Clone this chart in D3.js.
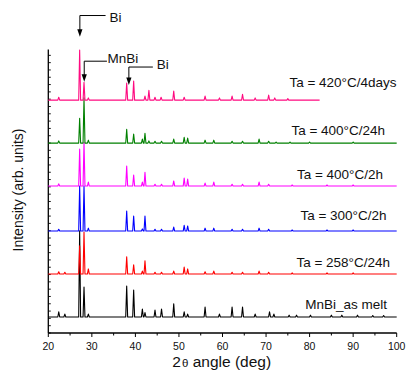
<!DOCTYPE html>
<html><head><meta charset="utf-8">
<script src="https://cdn.jsdelivr.net/npm/d3@7"></script>
<style>body{margin:0;background:#fff;}svg{display:block;font-family:"Liberation Sans",Arial,sans-serif;}</style>
</head><body>
<script>
// ---- data ----
const seriesNames = ["MnBi_as melt","Ta = 258°C/24h","Ta = 300°C/2h","Ta = 400°C/2h","Ta = 400°C/24h","Ta = 420°C/4days"];
const seriesColors = ["#000000","#ff0000","#0000ff","#ff00ff","#008000","#ff0a80"];
const seriesOffsets = [219, 807, 1395, 2011, 2599, 3187];
const seriesRangeEnd = [100, 100, 100, 100, 100, 82.3];
// peaks: [2theta, height]
const peaksAsMelt = [[22.4,70],[23.8,40],[27.2,1180],[28.2,410],[29.2,40],[38.0,425],[39.6,370],[41.6,110],[42.2,60],[44.5,95],[46.0,110],[48.8,180],[51.2,70],[52.0,40],[56.0,135],[59.3,40],[62.2,135],[64.6,135],[67.5,40],[70.8,70],[71.8,40],[75.3,25],[77.0,25],[80.2,25],[85.0,25],[87.4,25],[91.0,25],[94.5,20],[97.0,20]];
const peaks258 = [[22.4,30],[23.8,25],[27.2,385],[28.2,575],[29.2,70],[38.0,235],[39.6,125],[41.6,40],[42.2,180],[44.5,25],[46.0,25],[48.8,40],[51.2,95],[52.0,70],[56.0,30],[58.0,40],[62.2,25],[64.6,25],[68.4,40],[70.6,25],[76.0,15],[84.0,15],[90.0,15]];
const peaks300 = [[22.4,25],[27.2,615],[28.2,615],[29.2,40],[38.0,275],[39.6,205],[41.6,30],[42.2,205],[44.5,25],[46.0,25],[48.8,55],[51.2,80],[52.0,70],[56.0,40],[58.0,40],[62.2,25],[64.6,25],[68.4,40],[70.6,25],[76.0,15],[84.0,15],[90.0,15]];
const peaks400b = [[22.4,30],[27.2,505],[28.2,600],[29.2,55],[38.0,275],[39.6,150],[41.6,55],[42.2,190],[44.5,25],[46.0,25],[48.8,70],[51.2,110],[52.0,95],[56.0,40],[58.0,55],[62.2,25],[64.6,25],[68.4,55],[70.6,25],[76.0,15],[84.0,15],[90.0,15]];
const peaks400a = [[22.4,30],[27.2,340],[28.2,620],[29.2,40],[38.0,190],[39.6,125],[41.6,55],[42.2,135],[43.1,30],[44.5,25],[46.0,25],[48.8,55],[51.2,80],[52.0,70],[56.0,40],[58.0,40],[62.2,25],[64.6,25],[68.4,55],[70.6,25],[72.3,15],[75.5,15],[80.0,15],[90.0,15]];
const peaks420 = [[22.4,40],[27.2,685],[28.2,245],[29.2,30],[38.0,235],[39.6,260],[42.2,55],[43.1,135],[44.5,40],[45.9,40],[48.8,125],[51.2,40],[56.0,55],[59.3,30],[62.2,55],[64.6,80],[67.5,30],[70.6,70],[72.0,30],[75.0,20]];
const allPeaks = [peaksAsMelt, peaks258, peaks300, peaks400b, peaks400a, peaks420];
const xTicks = [20,30,40,50,60,70,80,90,100];
const annotations = [
  {text:"Bi",   x:27.25, tip:4055, elbow:4345},
  {text:"MnBi", x:28.25, tip:3440, elbow:3720},
  {text:"Bi",   x:38.5,  tip:3395, elbow:3640}
];

// ---- layout ----
const W = 407, H = 378;
const svg = d3.select("body").append("svg").attr("width", W).attr("height", H);
const x = d3.scaleLinear().domain([20,100]).range([48.3, 396.7]);
const y = d3.scaleLinear().domain([0,3880]).range([333, 49.5]);

// bottom axis
const xAxis = svg.append("g").attr("transform","translate(0,333)");
xAxis.append("line").attr("x1",x(20)).attr("x2",x(100)).attr("stroke","#000").attr("stroke-width",1.3);
d3.range(20,100.1,5).forEach(v=>{
  const major = v%10===0;
  xAxis.append("line").attr("x1",x(v)).attr("x2",x(v)).attr("y1",0).attr("y2",major?4:2.5).attr("stroke","#000").attr("stroke-width",1);
});
xAxis.selectAll("text.tl").data(xTicks).join("text").attr("class","tl")
  .attr("x",d=>x(d)).attr("y",17).attr("text-anchor","middle").attr("font-size",10.5).attr("fill","#111").text(d=>d);

// left axis
const yAxis = svg.append("g");
yAxis.append("line").attr("x1",48.3).attr("x2",48.3).attr("y1",y(0)).attr("y2",y(3880)).attr("stroke","#000").attr("stroke-width",1.3);
yAxis.selectAll("line.yt").data(d3.range(0,3881,100)).join("line").attr("class","yt")
  .attr("x1",48.3).attr("x2",50.8).attr("y1",d=>y(d)).attr("y2",d=>y(d)).attr("stroke","#000").attr("stroke-width",0.9);

// axis titles
const xt = svg.append("text").attr("x",221.7).attr("y",366.5).attr("text-anchor","middle").attr("font-size",15.5).attr("fill","#111");
xt.append("tspan").text("2");
xt.append("tspan").attr("font-size",11.5).attr("dx",1).text("θ");
xt.append("tspan").text(" angle (deg)");
svg.append("text").attr("transform","translate(23,190) rotate(-90)").attr("text-anchor","middle")
  .attr("font-size",14).attr("fill","#111").text("Intensity (arb. units)");

// series
const hw = 0.22;
const line = d3.line().x(d=>x(d[0])).y(d=>y(d[1]));
allPeaks.forEach((peaks,i)=>{
  const off = seriesOffsets[i];
  const pts = [[20,off]];
  peaks.filter(p=>p[0] < seriesRangeEnd[i]).forEach(p=>{
    pts.push([p[0]-hw,off],[p[0],off+p[1]],[p[0]+hw,off]);
  });
  pts.push([seriesRangeEnd[i],off]);
  svg.append("path").attr("d",line(pts)).attr("fill","none").attr("stroke",seriesColors[i])
    .attr("stroke-width",1.1).attr("stroke-linejoin","round");
});

// series labels
const labelPos = [[387,309],[390,266.5],[386.5,220],[383,179],[385,135],[396.5,87]];
seriesNames.forEach((n,i)=>{
  svg.append("text").attr("x",labelPos[i][0]).attr("y",labelPos[i][1]).attr("text-anchor","end")
    .attr("font-size",13.5).attr("fill","#111").text(n);
});

// annotations
const annLen = [25.7, 22.7, 24];
annotations.forEach((a,i)=>{
  const ax = x(a.x), tipY = y(a.tip), ey = y(a.elbow);
  svg.append("line").attr("x1",ax).attr("x2",ax).attr("y1",ey).attr("y2",tipY-6).attr("stroke","#000").attr("stroke-width",1);
  svg.append("line").attr("x1",ax).attr("x2",ax+annLen[i]).attr("y1",ey).attr("y2",ey).attr("stroke","#000").attr("stroke-width",1);
  svg.append("path").attr("d",`M${ax-2.6},${tipY-7.5}L${ax+2.6},${tipY-7.5}L${ax},${tipY}Z`).attr("fill","#000");
  const ty = i===0 ? ey+6.8 : ey+1.5;
  svg.append("text").attr("x",ax+annLen[i]+(i===1?0.5:4)).attr("y",ty).attr("font-size",13.5).attr("fill","#111").text(a.text);
});
</script>
</body></html>
